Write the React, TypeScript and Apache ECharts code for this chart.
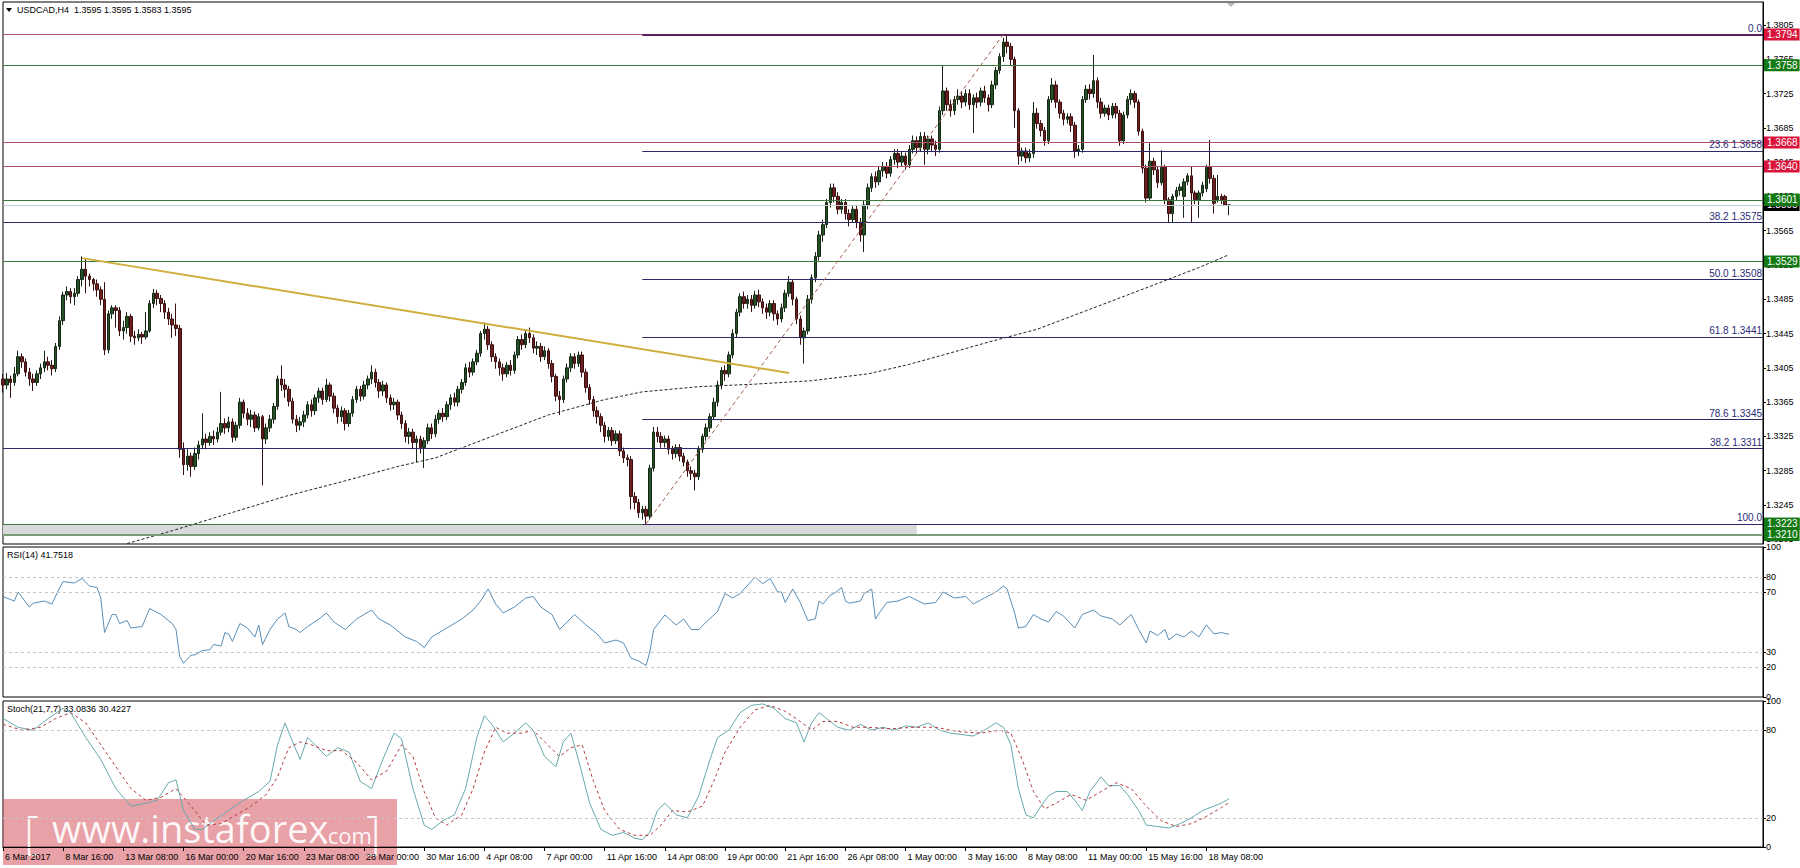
import React, { useEffect, useRef } from 'react';
import * as echarts from 'echarts';

// ---------- DATA ----------
const tickLabels = ['6 Mar 2017', '8 Mar 16:00', '13 Mar 08:00', '16 Mar 00:00', '20 Mar 16:00', '23 Mar 08:00', '28 Mar 00:00', '30 Mar 16:00', '4 Apr 08:00', '7 Apr 00:00', '11 Apr 16:00', '14 Apr 08:00', '19 Apr 00:00', '21 Apr 16:00', '26 Apr 08:00', '1 May 00:00', '3 May 16:00', '8 May 08:00', '11 May 00:00', '15 May 16:00', '18 May 08:00'];
const priceTicks = [1.3205, 1.3245, 1.3285, 1.3325, 1.3365, 1.3405, 1.3445, 1.3485, 1.3525, 1.3565, 1.3605, 1.3645, 1.3685, 1.3725, 1.3765, 1.3805];
const rsiTicks = [0, 20, 30, 70, 80, 100];
const stochTicks = [0, 20, 80, 100];
const rsiLevels = [80, 70, 30, 20];
const stochLevels = [80, 20];

// [open, close, low, high] per H4 bar
const candles = [
  [1.3392,1.3385,1.3376,1.3398],[1.3385,1.3392,1.3380,1.3399],[1.3392,1.3388,1.3370,1.3396],[1.3388,1.3398,1.3384,1.3406],
  [1.3398,1.3418,1.3395,1.3425],[1.3418,1.3412,1.3405,1.3422],[1.3412,1.3400,1.3395,1.3416],[1.3400,1.3392,1.3384,1.3405],
  [1.3392,1.3388,1.3378,1.3398],[1.3388,1.3398,1.3384,1.3402],[1.3398,1.3405,1.3392,1.3410],[1.3405,1.3412,1.3400,1.3425],
  [1.3412,1.3408,1.3402,1.3418],[1.3408,1.3404,1.3396,1.3414],[1.3404,1.3430,1.3400,1.3434],[1.3430,1.3460,1.3426,1.3465],
  [1.3460,1.3490,1.3455,1.3494],[1.3490,1.3494,1.3484,1.3500],[1.3494,1.3488,1.3480,1.3498],[1.3488,1.3492,1.3478,1.3498],
  [1.3492,1.3508,1.3488,1.3512],[1.3508,1.3520,1.3500,1.3535],[1.3520,1.3512,1.3492,1.3532],[1.3512,1.3508,1.3500,1.3515],
  [1.3508,1.3503,1.3495,1.3510],[1.3503,1.3496,1.3488,1.3508],[1.3496,1.3485,1.3478,1.3500],[1.3485,1.3426,1.3420,1.3505],
  [1.3426,1.3468,1.3422,1.3472],[1.3468,1.3475,1.3462,1.3478],[1.3475,1.3472,1.3452,1.3478],[1.3472,1.3448,1.3442,1.3476],
  [1.3448,1.3452,1.3438,1.3460],[1.3452,1.3465,1.3445,1.3470],[1.3465,1.3442,1.3435,1.3468],[1.3442,1.3440,1.3432,1.3448],
  [1.3440,1.3444,1.3436,1.3450],[1.3444,1.3441,1.3433,1.3447],[1.3441,1.3448,1.3438,1.3470],[1.3448,1.3480,1.3446,1.3484],
  [1.3480,1.3492,1.3475,1.3497],[1.3492,1.3486,1.3478,1.3496],[1.3486,1.3480,1.3470,1.3490],[1.3480,1.3470,1.3462,1.3484],
  [1.3470,1.3462,1.3455,1.3475],[1.3462,1.3455,1.3440,1.3468],[1.3455,1.3451,1.3442,1.3480],[1.3451,1.3310,1.3300,1.3455],
  [1.3310,1.3292,1.3280,1.3318],[1.3292,1.3302,1.3285,1.3310],[1.3302,1.3290,1.3278,1.3306],[1.3290,1.3305,1.3286,1.3312],
  [1.3305,1.3315,1.3298,1.3320],[1.3315,1.3322,1.3310,1.3352],[1.3322,1.3318,1.3310,1.3328],[1.3318,1.3325,1.3314,1.3330],
  [1.3325,1.3322,1.3315,1.3332],[1.3322,1.3330,1.3318,1.3336],[1.3330,1.3340,1.3326,1.3377],[1.3340,1.3335,1.3328,1.3346],
  [1.3335,1.3342,1.3330,1.3348],[1.3342,1.3324,1.3318,1.3346],[1.3324,1.3338,1.3320,1.3342],[1.3338,1.3365,1.3334,1.3370],
  [1.3365,1.3352,1.3346,1.3368],[1.3352,1.3345,1.3338,1.3358],[1.3345,1.3350,1.3336,1.3356],[1.3350,1.3335,1.3330,1.3354],
  [1.3335,1.3348,1.3332,1.3352],[1.3348,1.3322,1.3268,1.3350],[1.3322,1.3335,1.3316,1.3340],[1.3335,1.3345,1.3330,1.3350],
  [1.3345,1.3360,1.3340,1.3364],[1.3360,1.3392,1.3356,1.3396],[1.3392,1.3385,1.3378,1.3408],[1.3385,1.3380,1.3370,1.3392],
  [1.3380,1.3366,1.3360,1.3384],[1.3366,1.3345,1.3340,1.3370],[1.3345,1.3338,1.3330,1.3350],[1.3338,1.3342,1.3332,1.3348],
  [1.3342,1.3350,1.3336,1.3355],[1.3350,1.3362,1.3346,1.3366],[1.3362,1.3355,1.3348,1.3368],[1.3355,1.3370,1.3350,1.3374],
  [1.3370,1.3378,1.3364,1.3382],[1.3378,1.3368,1.3362,1.3382],[1.3368,1.3385,1.3365,1.3392],[1.3385,1.3372,1.3366,1.3388],
  [1.3372,1.3358,1.3352,1.3376],[1.3358,1.3348,1.3340,1.3362],[1.3348,1.3355,1.3342,1.3360],[1.3355,1.3340,1.3332,1.3358],
  [1.3340,1.3352,1.3336,1.3356],[1.3352,1.3368,1.3348,1.3372],[1.3368,1.3380,1.3364,1.3384],[1.3380,1.3372,1.3366,1.3384],
  [1.3372,1.3385,1.3368,1.3390],[1.3385,1.3392,1.3380,1.3396],[1.3392,1.3400,1.3386,1.3408],[1.3400,1.3388,1.3382,1.3404],
  [1.3388,1.3378,1.3370,1.3392],[1.3378,1.3385,1.3372,1.3390],[1.3385,1.3370,1.3364,1.3388],[1.3370,1.3362,1.3355,1.3374],
  [1.3362,1.3365,1.3356,1.3370],[1.3365,1.3350,1.3344,1.3368],[1.3350,1.3340,1.3334,1.3354],[1.3340,1.3325,1.3318,1.3344],
  [1.3325,1.3330,1.3316,1.3335],[1.3330,1.3318,1.3310,1.3334],[1.3318,1.3322,1.3295,1.3326],[1.3322,1.3312,1.3305,1.3326],
  [1.3312,1.3320,1.3288,1.3324],[1.3320,1.3335,1.3316,1.3340],[1.3335,1.3328,1.3322,1.3340],[1.3328,1.3345,1.3324,1.3350],
  [1.3345,1.3352,1.3340,1.3356],[1.3352,1.3348,1.3342,1.3358],[1.3348,1.3362,1.3344,1.3366],[1.3362,1.3370,1.3356,1.3374],
  [1.3370,1.3365,1.3360,1.3376],[1.3365,1.3380,1.3360,1.3384],[1.3380,1.3388,1.3375,1.3392],[1.3388,1.3405,1.3384,1.3410],
  [1.3405,1.3400,1.3394,1.3412],[1.3400,1.3412,1.3396,1.3416],[1.3412,1.3422,1.3408,1.3426],[1.3422,1.3445,1.3418,1.3448],
  [1.3445,1.3450,1.3438,1.3458],[1.3450,1.3432,1.3426,1.3454],[1.3432,1.3418,1.3412,1.3436],[1.3418,1.3412,1.3404,1.3422],
  [1.3412,1.3405,1.3396,1.3416],[1.3405,1.3398,1.3390,1.3410],[1.3398,1.3408,1.3394,1.3412],[1.3408,1.3402,1.3396,1.3414],
  [1.3402,1.3420,1.3398,1.3424],[1.3420,1.3438,1.3416,1.3442],[1.3438,1.3432,1.3426,1.3444],[1.3432,1.3445,1.3428,1.3450],
  [1.3445,1.3440,1.3434,1.3452],[1.3440,1.3428,1.3422,1.3444],[1.3428,1.3430,1.3420,1.3436],[1.3430,1.3418,1.3412,1.3434],
  [1.3418,1.3425,1.3414,1.3430],[1.3425,1.3410,1.3404,1.3428],[1.3410,1.3395,1.3388,1.3414],[1.3395,1.3372,1.3366,1.3398],
  [1.3372,1.3368,1.3350,1.3378],[1.3368,1.3392,1.3364,1.3396],[1.3392,1.3405,1.3388,1.3410],[1.3405,1.3418,1.3400,1.3422],
  [1.3418,1.3410,1.3404,1.3422],[1.3410,1.3420,1.3406,1.3424],[1.3420,1.3400,1.3394,1.3424],[1.3400,1.3382,1.3376,1.3404],
  [1.3382,1.3368,1.3362,1.3386],[1.3368,1.3355,1.3348,1.3372],[1.3355,1.3348,1.3340,1.3360],[1.3348,1.3338,1.3330,1.3352],
  [1.3338,1.3325,1.3318,1.3342],[1.3325,1.3332,1.3320,1.3336],[1.3332,1.3320,1.3314,1.3336],[1.3320,1.3328,1.3316,1.3332],
  [1.3328,1.3308,1.3302,1.3332],[1.3308,1.3300,1.3294,1.3312],[1.3300,1.3298,1.3290,1.3304],[1.3298,1.3255,1.3240,1.3302],
  [1.3255,1.3248,1.3240,1.3260],[1.3248,1.3236,1.3230,1.3252],[1.3236,1.3240,1.3228,1.3244],[1.3240,1.3232,1.3223,1.3244],
  [1.3232,1.3288,1.3228,1.3292],[1.3288,1.3330,1.3284,1.3336],[1.3330,1.3325,1.3318,1.3336],[1.3325,1.3318,1.3312,1.3330],
  [1.3318,1.3322,1.3312,1.3326],[1.3322,1.3310,1.3304,1.3326],[1.3310,1.3305,1.3298,1.3314],[1.3305,1.3312,1.3300,1.3316],
  [1.3312,1.3302,1.3296,1.3316],[1.3302,1.3295,1.3290,1.3306],[1.3295,1.3285,1.3278,1.3298],[1.3285,1.3282,1.3274,1.3290],
  [1.3282,1.3278,1.3262,1.3286],[1.3278,1.3310,1.3274,1.3314],[1.3310,1.3325,1.3306,1.3328],[1.3325,1.3335,1.3320,1.3340],
  [1.3335,1.3348,1.3330,1.3352],[1.3348,1.3365,1.3344,1.3370],[1.3365,1.3385,1.3360,1.3390],[1.3385,1.3402,1.3380,1.3406],
  [1.3402,1.3398,1.3390,1.3408],[1.3398,1.3420,1.3394,1.3424],[1.3420,1.3445,1.3416,1.3450],[1.3445,1.3470,1.3440,1.3474],
  [1.3470,1.3488,1.3465,1.3492],[1.3488,1.3480,1.3474,1.3494],[1.3480,1.3485,1.3474,1.3490],[1.3485,1.3478,1.3470,1.3490],
  [1.3478,1.3490,1.3474,1.3495],[1.3490,1.3482,1.3476,1.3496],[1.3482,1.3475,1.3468,1.3486],[1.3475,1.3470,1.3462,1.3480],
  [1.3470,1.3480,1.3465,1.3484],[1.3480,1.3468,1.3460,1.3484],[1.3468,1.3462,1.3455,1.3472],[1.3462,1.3475,1.3458,1.3480],
  [1.3475,1.3492,1.3470,1.3496],[1.3492,1.3505,1.3488,1.3512],[1.3505,1.3485,1.3478,1.3508],[1.3485,1.3462,1.3456,1.3488],
  [1.3462,1.3440,1.3432,1.3466],[1.3440,1.3448,1.3410,1.3452],[1.3448,1.3485,1.3444,1.3490],[1.3485,1.3510,1.3480,1.3514],
  [1.3510,1.3535,1.3505,1.3540],[1.3535,1.3560,1.3530,1.3565],[1.3560,1.3572,1.3552,1.3578],[1.3572,1.3598,1.3568,1.3602],
  [1.3598,1.3615,1.3592,1.3620],[1.3615,1.3605,1.3598,1.3620],[1.3605,1.3590,1.3584,1.3610],[1.3590,1.3598,1.3585,1.3602],
  [1.3598,1.3585,1.3578,1.3602],[1.3585,1.3578,1.3570,1.3590],[1.3578,1.3590,1.3574,1.3594],[1.3590,1.3575,1.3568,1.3594],
  [1.3575,1.3560,1.3552,1.3580],[1.3560,1.3595,1.3540,1.3600],[1.3595,1.3615,1.3590,1.3620],[1.3615,1.3628,1.3610,1.3632],
  [1.3628,1.3622,1.3615,1.3634],[1.3622,1.3635,1.3618,1.3640],[1.3635,1.3640,1.3628,1.3645],[1.3640,1.3632,1.3626,1.3645],
  [1.3632,1.3648,1.3628,1.3652],[1.3648,1.3655,1.3642,1.3660],[1.3655,1.3645,1.3638,1.3660],[1.3645,1.3652,1.3640,1.3658],
  [1.3652,1.3642,1.3636,1.3656],[1.3642,1.3660,1.3638,1.3665],[1.3660,1.3670,1.3655,1.3676],[1.3670,1.3662,1.3655,1.3675],
  [1.3662,1.3675,1.3658,1.3680],[1.3675,1.3660,1.3642,1.3680],[1.3660,1.3672,1.3654,1.3676],[1.3672,1.3665,1.3658,1.3676],
  [1.3665,1.3660,1.3652,1.3670],[1.3660,1.3705,1.3656,1.3710],[1.3705,1.3728,1.3700,1.3758],[1.3728,1.3712,1.3705,1.3732],
  [1.3712,1.3705,1.3698,1.3718],[1.3705,1.3718,1.3700,1.3722],[1.3718,1.3722,1.3712,1.3730],[1.3722,1.3715,1.3708,1.3728],
  [1.3715,1.3725,1.3710,1.3730],[1.3725,1.3712,1.3706,1.3730],[1.3712,1.3720,1.3679,1.3724],[1.3720,1.3715,1.3708,1.3726],
  [1.3715,1.3728,1.3710,1.3732],[1.3728,1.3720,1.3714,1.3734],[1.3720,1.3712,1.3704,1.3724],[1.3712,1.3735,1.3708,1.3740],
  [1.3735,1.3752,1.3730,1.3756],[1.3752,1.3768,1.3748,1.3772],[1.3768,1.3785,1.3762,1.3790],[1.3785,1.3780,1.3772,1.3794],
  [1.3780,1.3765,1.3758,1.3784],[1.3765,1.3705,1.3685,1.3768],[1.3705,1.3652,1.3642,1.3708],[1.3652,1.3658,1.3646,1.3662],
  [1.3658,1.3650,1.3644,1.3662],[1.3650,1.3655,1.3645,1.3660],[1.3655,1.3702,1.3650,1.3715],[1.3702,1.3690,1.3684,1.3708],
  [1.3690,1.3682,1.3675,1.3694],[1.3682,1.3670,1.3664,1.3686],[1.3670,1.3718,1.3666,1.3722],[1.3718,1.3735,1.3714,1.3743],
  [1.3735,1.3715,1.3708,1.3740],[1.3715,1.3702,1.3696,1.3718],[1.3702,1.3695,1.3688,1.3706],[1.3695,1.3698,1.3690,1.3702],
  [1.3698,1.3688,1.3680,1.3702],[1.3688,1.3658,1.3650,1.3692],[1.3658,1.3660,1.3652,1.3665],[1.3660,1.3718,1.3656,1.3722],
  [1.3718,1.3730,1.3714,1.3735],[1.3730,1.3725,1.3718,1.3736],[1.3725,1.3740,1.3720,1.3770],[1.3740,1.3715,1.3708,1.3744],
  [1.3715,1.3702,1.3696,1.3720],[1.3702,1.3708,1.3698,1.3712],[1.3708,1.3700,1.3694,1.3712],[1.3700,1.3710,1.3696,1.3714],
  [1.3710,1.3702,1.3696,1.3714],[1.3702,1.3670,1.3664,1.3706],[1.3670,1.3700,1.3666,1.3704],[1.3700,1.3718,1.3696,1.3722],
  [1.3718,1.3725,1.3712,1.3730],[1.3725,1.3715,1.3708,1.3728],[1.3715,1.3681,1.3676,1.3718],[1.3681,1.3638,1.3632,1.3684],
  [1.3638,1.3603,1.3598,1.3642],[1.3603,1.3646,1.3600,1.3667],[1.3646,1.3636,1.3630,1.3650],[1.3636,1.3621,1.3615,1.3640],
  [1.3621,1.3639,1.3618,1.3659],[1.3639,1.3601,1.3596,1.3642],[1.3601,1.3585,1.3574,1.3604],[1.3585,1.3605,1.3574,1.3608],
  [1.3605,1.3612,1.3600,1.3616],[1.3612,1.3616,1.3606,1.3620],[1.3605,1.3622,1.3580,1.3626],[1.3622,1.3629,1.3618,1.3632],
  [1.3629,1.3609,1.3574,1.3640],[1.3609,1.3601,1.3596,1.3612],[1.3601,1.3609,1.3580,1.3612],[1.3609,1.3618,1.3605,1.3622],
  [1.3614,1.3639,1.3610,1.3642],[1.3639,1.3626,1.3620,1.3671],[1.3626,1.3597,1.3585,1.3630],[1.3601,1.3605,1.3598,1.3630],
  [1.3605,1.3601,1.3596,1.3608],[1.3605,1.3595,1.3594,1.3607],[1.3595,1.3595,1.3583,1.3595],
];

// moving average (dashed) vertices: [bar, price]
const maPoints = [[33,1.3200],[45,1.3215],[60,1.3235],[75,1.3255],[90,1.3272],[105,1.3290],[115,1.3300],[130,1.3325],[145,1.3350],[160,1.3368],[170,1.3377],[185,1.3383],[200,1.3386],[215,1.3390],[230,1.3398],[240,1.3408],[250,1.3420],[262,1.3435],[275,1.3450],[290,1.3475],[305,1.3500],[318,1.3522],[326,1.3537]];

const rsiPoints = [[0,67],[3,64],[4,70],[7,60],[8,62.5],[11,64],[13,62],[15,72.5],[16,77],[19,76],[21,79],[23,74],[25,73],[26,66],[27,43],[29,55],[30,55],[31,49],[33,51],[34,46],[37,47],[39,59],[42,55],[44,51],[45,49],[46,45],[47,27],[48,22.5],[50,28],[51,28],[53,31],[55,31.5],[56,35],[58,34],[59,43],[60,42],[61,37],[63,49],[65,46],[67,40],[68,48],[69,35],[71,45],[73,52],[75,56],[76,47],[78,45],[79,43],[81,47],[84,52],[86,56],[88,50],[91,45],[94,52],[98,58],[100,52],[103,48],[107,40],[110,37],[112,33],[114,40],[118,46],[122,52],[125,58],[127,64],[129,72],[131,62],[133,56],[136,60],[139,66],[141,67],[143,60],[146,55],[148,45],[150,50],[152,55],[155,48],[158,42],[160,36],[163,38],[165,36],[167,26],[169,24],[171,21],[172,30],[173,45],[176,54.7],[179,48],[181,52],[183,45],[185,45],[187,50],[190,57],[192,69],[194,66],[196,69],[200,80],[202,75.5],[204,79],[206,70],[207,70],[208,63],[210,72],[212,63],[214,51],[216,52],[217,64],[218,62],[220,68],[221,69],[223,73],[224,64],[225,62.5],[228,64],[229,69],[231,72],[232,52],[233,56],[235,63],[238,64],[241,67],[245,62],[248,63],[250,70],[253,66],[256,67],[258,62],[261,66],[264,70],[266,74],[267,72],[269,56],[270,46],[272,47],[274,55],[276,52],[278,50],[280,57],[282,54],[285,46],[287,55],[290,58],[292,54],[295,52],[297,48],[300,55],[302,45],[304,36],[305,44],[307,41],[309,45],[310,38],[312,42],[314,40],[316,44],[318,40],[320,48],[322,42],[324,43],[326,41.75]];

const stochMain = [[0,88],[4,82],[8,80],[12,88],[16,95],[18,92],[22,75],[26,60],[30,40],[34,28],[38,30],[41,32],[44,44],[46,46],[48,25],[51,12],[53,12],[56,18],[60,25],[64,32],[68,38],[71,45],[73,70],[75,85],[77,72],[79,60],[81,75],[83,70],[86,62],[89,68],[92,65],[95,45],[98,40],[101,60],[104,78],[106,74],[109,40],[112,15],[114,12],[117,18],[120,22],[123,40],[126,75],[128,90],[130,84],[133,72],[136,78],[139,85],[141,80],[144,62],[147,55],[149,72],[151,78],[153,60],[156,30],[159,12],[162,8],[165,10],[168,6],[170,5],[172,10],[174,25],[176,30],[179,22],[182,20],[185,35],[188,60],[190,75],[193,80],[196,92],[199,97],[202,98],[205,95],[208,88],[211,85],[213,72],[215,85],[217,92],[219,88],[222,82],[225,80],[228,84],[231,80],[234,82],[237,80],[240,83],[243,82],[246,85],[249,80],[252,78],[255,77],[258,76],[261,80],[264,85],[266,82],[268,70],[270,40],[272,22],[274,20],[276,28],[278,35],[280,38],[283,38],[285,32],[287,25],[289,38],[292,48],[294,42],[297,42],[299,36],[302,25],[304,15],[307,14],[310,13],[313,16],[316,20],[319,25],[322,28],[324,30],[326,33.08]];

const stochSignal = [[0,84],[5,80],[10,82],[14,88],[18,92],[22,85],[26,70],[30,55],[34,40],[38,32],[42,34],[46,40],[50,28],[54,15],[58,16],[62,22],[66,28],[70,36],[73,48],[76,68],[79,72],[82,70],[86,66],[90,66],[94,58],[98,46],[102,52],[106,70],[109,62],[112,38],[115,20],[118,15],[122,22],[125,40],[128,65],[131,82],[134,78],[138,78],[141,80],[144,72],[148,62],[151,68],[154,70],[157,45],[160,25],[164,12],[168,8],[172,8],[175,15],[178,25],[182,24],[186,28],[189,45],[192,65],[196,82],[200,94],[204,97],[208,93],[212,86],[215,80],[218,86],[222,86],[226,82],[230,82],[236,81],[242,82],[248,82],[254,79],[260,78],[265,80],[268,78],[271,60],[274,38],[277,26],[280,30],[284,36],[288,32],[292,38],[296,44],[300,40],[304,28],[308,18],[312,14],[316,16],[320,21],[324,27],[326,30.42]];

const redLevels = [1.3794, 1.3668, 1.3640];
const greenLevels = [1.3758, 1.3601, 1.3529, 1.3223, 1.3210];
const bidPrice = 1.3595;
const fibLevels = [['0.0', 1.3794], ['23.6', 1.3658], ['50.0', 1.3508], ['61.8', 1.3441], ['78.6', 1.3345], ['100.0', 1.3223]];
const fullFibLevels = [['38.2', 1.3575], ['38.2', 1.3311]];
const fibStartBar = 170;
const fibSwing = [[171, 1.3223], [266, 1.3794]];
const trendLine = [[21, 1.3533], [209, 1.3399]];
const grayBand = [[0, 1.3222], [243, 1.3211]];
const headerText = 'USDCAD,H4  1.3595 1.3595 1.3583 1.3595';
const rsiTitle = 'RSI(14) 41.7518';
const stochTitle = 'Stoch(21,7,7) 33.0836 30.4227';

// ---------- CHART ----------
const SLOTS = 469;
const LAST = SLOTS - 1;
const FONT = 'Liberation Sans, Arial, sans-serif';

function buildOption() {
  const cats = Array.from({ length: SLOTS }, (_, i) => String(i));
  const isTick = (i: number) => i % 16 === 0 && i / 16 < tickLabels.length;

  const hLine = (y: number, color: string, width = 1, type = 'solid', x0 = 0, label: any = { show: false }) => [
    { coord: [x0, y], lineStyle: { color, width, type }, label },
    { coord: [LAST, y] },
  ];
  const tag = (v: number, bg: string) => ({
    show: true, position: 'end', distance: 1, formatter: v.toFixed(4),
    backgroundColor: bg, color: '#fff', padding: [1, 2, 0, 3], fontSize: 10, fontFamily: FONT, lineHeight: 11,
  });
  const fibLabel = (name: string, v: number) => ({
    show: true, position: 'insideEndTop', distance: 1,
    formatter: name !== '0.0' && name !== '100.0' ? `${name} ${v.toFixed(4)}` : name,
    color: '#2a2a78', fontSize: 10, fontFamily: FONT,
  });

  const mlData: any[] = [];
  mlData.push(hLine(bidPrice, '#c8c8c8', 1, 'solid', 0, tag(bidPrice, '#000')));
  redLevels.forEach(v => mlData.push(hLine(v, '#b0506a', 1, 'solid', 0, tag(v, '#d8143a'))));
  greenLevels.forEach(v => mlData.push(hLine(v, v === 1.3210 ? '#7d9d7d' : '#3d7a3d', v === 1.3210 ? 2 : 1, 'solid', 0, tag(v, '#137a13'))));
  fullFibLevels.forEach(([n, v]) => mlData.push(hLine(v as number, '#2a2a6a', 1, 'solid', 0, fibLabel(n as string, v as number))));
  fibLevels.forEach(([n, v]) => mlData.push(hLine(v as number, n === '0.0' ? '#5a1e5a' : '#2a2a6a', n === '0.0' ? 2 : 1, 'solid', fibStartBar, fibLabel(n as string, v as number))));
  mlData.push(hLine(1.3223, 'rgba(0,0,0,0)', 1, 'solid', LAST - 1, tag(1.3223, '#137a13')));
  mlData.push(hLine(1.3601, 'rgba(0,0,0,0)', 1, 'solid', LAST - 1, tag(1.3601, '#137a13')));
  mlData.push([
    { coord: fibSwing[0], lineStyle: { color: '#a35a4a', width: 1, type: [4, 3] }, label: { show: false } },
    { coord: fibSwing[1] },
  ]);
  mlData.push([
    { coord: trendLine[0], lineStyle: { color: '#cfae3c', width: 2, type: 'solid' }, label: { show: false } },
    { coord: trendLine[1] },
  ]);

  const xAxisFor = (g: number) => ({
    type: 'category', gridIndex: g, data: cats, boundaryGap: false,
    axisLine: { show: g === 2, lineStyle: { color: '#000' } },
    axisTick: { show: g === 2, interval: (i: number) => isTick(i), length: 4, lineStyle: { color: '#000' } },
    axisLabel: {
      show: g === 2, interval: (i: number) => isTick(i), align: 'left', margin: 5, padding: [0, 0, 0, 2],
      formatter: (v: string) => tickLabels[Number(v) / 16] ?? '',
      fontSize: 9, fontFamily: FONT, color: '#000',
    },
    splitLine: { show: false },
  });
  const yAxisFor = (g: number, min: number, max: number, ticks: number[], fmt: (v: number) => string) => ({
    type: 'value', gridIndex: g, position: 'right', min, max, scale: true,
    axisLine: { show: true, lineStyle: { color: '#000', width: 1 } },
    axisTick: { show: true, customValues: ticks, length: 3, lineStyle: { color: '#000' } },
    axisLabel: { customValues: ticks, formatter: fmt, margin: 3, fontSize: 9, fontFamily: FONT, color: '#000' },
    splitLine: { show: false },
  });
  const levelLines = (vals: number[]) => ({
    silent: true, symbol: ['none', 'none'], animation: false,
    lineStyle: { color: '#c4c4c4', type: [3, 3], width: 1 }, label: { show: false },
    data: vals.map(v => ({ yAxis: v })),
  });

  return {
    animation: false,
    backgroundColor: '#fff',
    grid: [
      { left: 3, top: 2, width: 1760, height: 542, show: true, borderColor: '#000', borderWidth: 1 },
      { left: 3, top: 547, width: 1760, height: 150, show: true, borderColor: '#000', borderWidth: 1 },
      { left: 3, top: 701, width: 1760, height: 146, show: true, borderColor: '#000', borderWidth: 1 },
    ],
    xAxis: [xAxisFor(0), xAxisFor(1), xAxisFor(2)],
    yAxis: [
      yAxisFor(0, 1.31995, 1.38318, priceTicks, (v: number) => v.toFixed(4)),
      yAxisFor(1, 0, 100, rsiTicks, (v: number) => String(v)),
      yAxisFor(2, 0, 100, stochTicks, (v: number) => String(v)),
    ],
    series: [
      {
        type: 'candlestick', xAxisIndex: 0, yAxisIndex: 0, data: candles, barWidth: 3,
        itemStyle: { color: '#245224', color0: '#6e2020', borderColor: '#152615', borderColor0: '#3a0f0f', borderWidth: 1 },
        markArea: { silent: true, itemStyle: { color: '#d9d9d9' }, data: [[{ coord: grayBand[0] }, { coord: grayBand[1] }]] },
        markLine: { silent: true, symbol: ['none', 'none'], animation: false, precision: 4, data: mlData },
      },
      {
        type: 'line', xAxisIndex: 0, yAxisIndex: 0, data: maPoints, showSymbol: false, symbol: 'none',
        lineStyle: { color: '#222', width: 1, type: [3, 2] }, z: 3,
      },
      {
        type: 'line', xAxisIndex: 1, yAxisIndex: 1, data: rsiPoints, symbol: 'none',
        lineStyle: { color: '#5a8db5', width: 1 }, markLine: levelLines(rsiLevels),
      },
      {
        type: 'line', xAxisIndex: 2, yAxisIndex: 2, data: stochMain, symbol: 'none',
        lineStyle: { color: '#67a9ad', width: 1 }, markLine: levelLines(stochLevels),
      },
      {
        type: 'line', xAxisIndex: 2, yAxisIndex: 2, data: stochSignal, symbol: 'none',
        lineStyle: { color: '#b23a3a', width: 1, type: [3, 3] },
      },
    ],
    graphic: [
      { type: 'polygon', shape: { points: [[6, 8], [12, 8], [9, 12]] }, style: { fill: '#000' } },
      { type: 'text', x: 17, y: 10, style: { text: headerText, font: `9px ${FONT}`, fill: '#000', verticalAlign: 'middle' } },
      { type: 'polygon', shape: { points: [[1227, 3], [1235, 3], [1231, 7]] }, style: { fill: '#b8b8b8' } },
      { type: 'text', x: 7, y: 555, style: { text: rsiTitle, font: `9px ${FONT}`, fill: '#000', verticalAlign: 'middle' } },
      { type: 'text', x: 7, y: 709, style: { text: stochTitle, font: `9px ${FONT}`, fill: '#000', verticalAlign: 'middle' } },
      {
        type: 'group', z: 100, children: [
          { type: 'rect', shape: { x: 3, y: 799, width: 394, height: 66 }, style: { fill: 'rgba(214, 84, 94, 0.55)' } },
          { type: 'text', x: 24, y: 831, style: { text: '[', font: `300 46px "Open Sans", sans-serif`, fill: 'rgba(255,255,255,0.92)', verticalAlign: 'middle' } },
          { type: 'text', x: 52, y: 828, style: { text: 'www.instaforex', font: `38px "Open Sans", sans-serif`, fill: 'rgba(255,255,255,0.92)', verticalAlign: 'middle' } },
          { type: 'text', x: 322, y: 835, style: { text: '.com', font: `22px "Open Sans", sans-serif`, fill: 'rgba(255,255,255,0.92)', verticalAlign: 'middle' } },
          { type: 'text', x: 366, y: 831, style: { text: ']', font: `300 46px "Open Sans", sans-serif`, fill: 'rgba(255,255,255,0.92)', verticalAlign: 'middle' } },
        ],
      },
    ],
  };
}

export default function App() {
  const ref = useRef<HTMLDivElement>(null);
  useEffect(() => {
    if (!ref.current) return;
    const chart = echarts.init(ref.current, undefined, { renderer: 'svg' });
    chart.setOption(buildOption() as any);
    return () => chart.dispose();
  }, []);
  return <div ref={ref} style={{ position: 'fixed', left: 0, top: 0, width: 1800, height: 868, background: '#fff' }} />;
}
